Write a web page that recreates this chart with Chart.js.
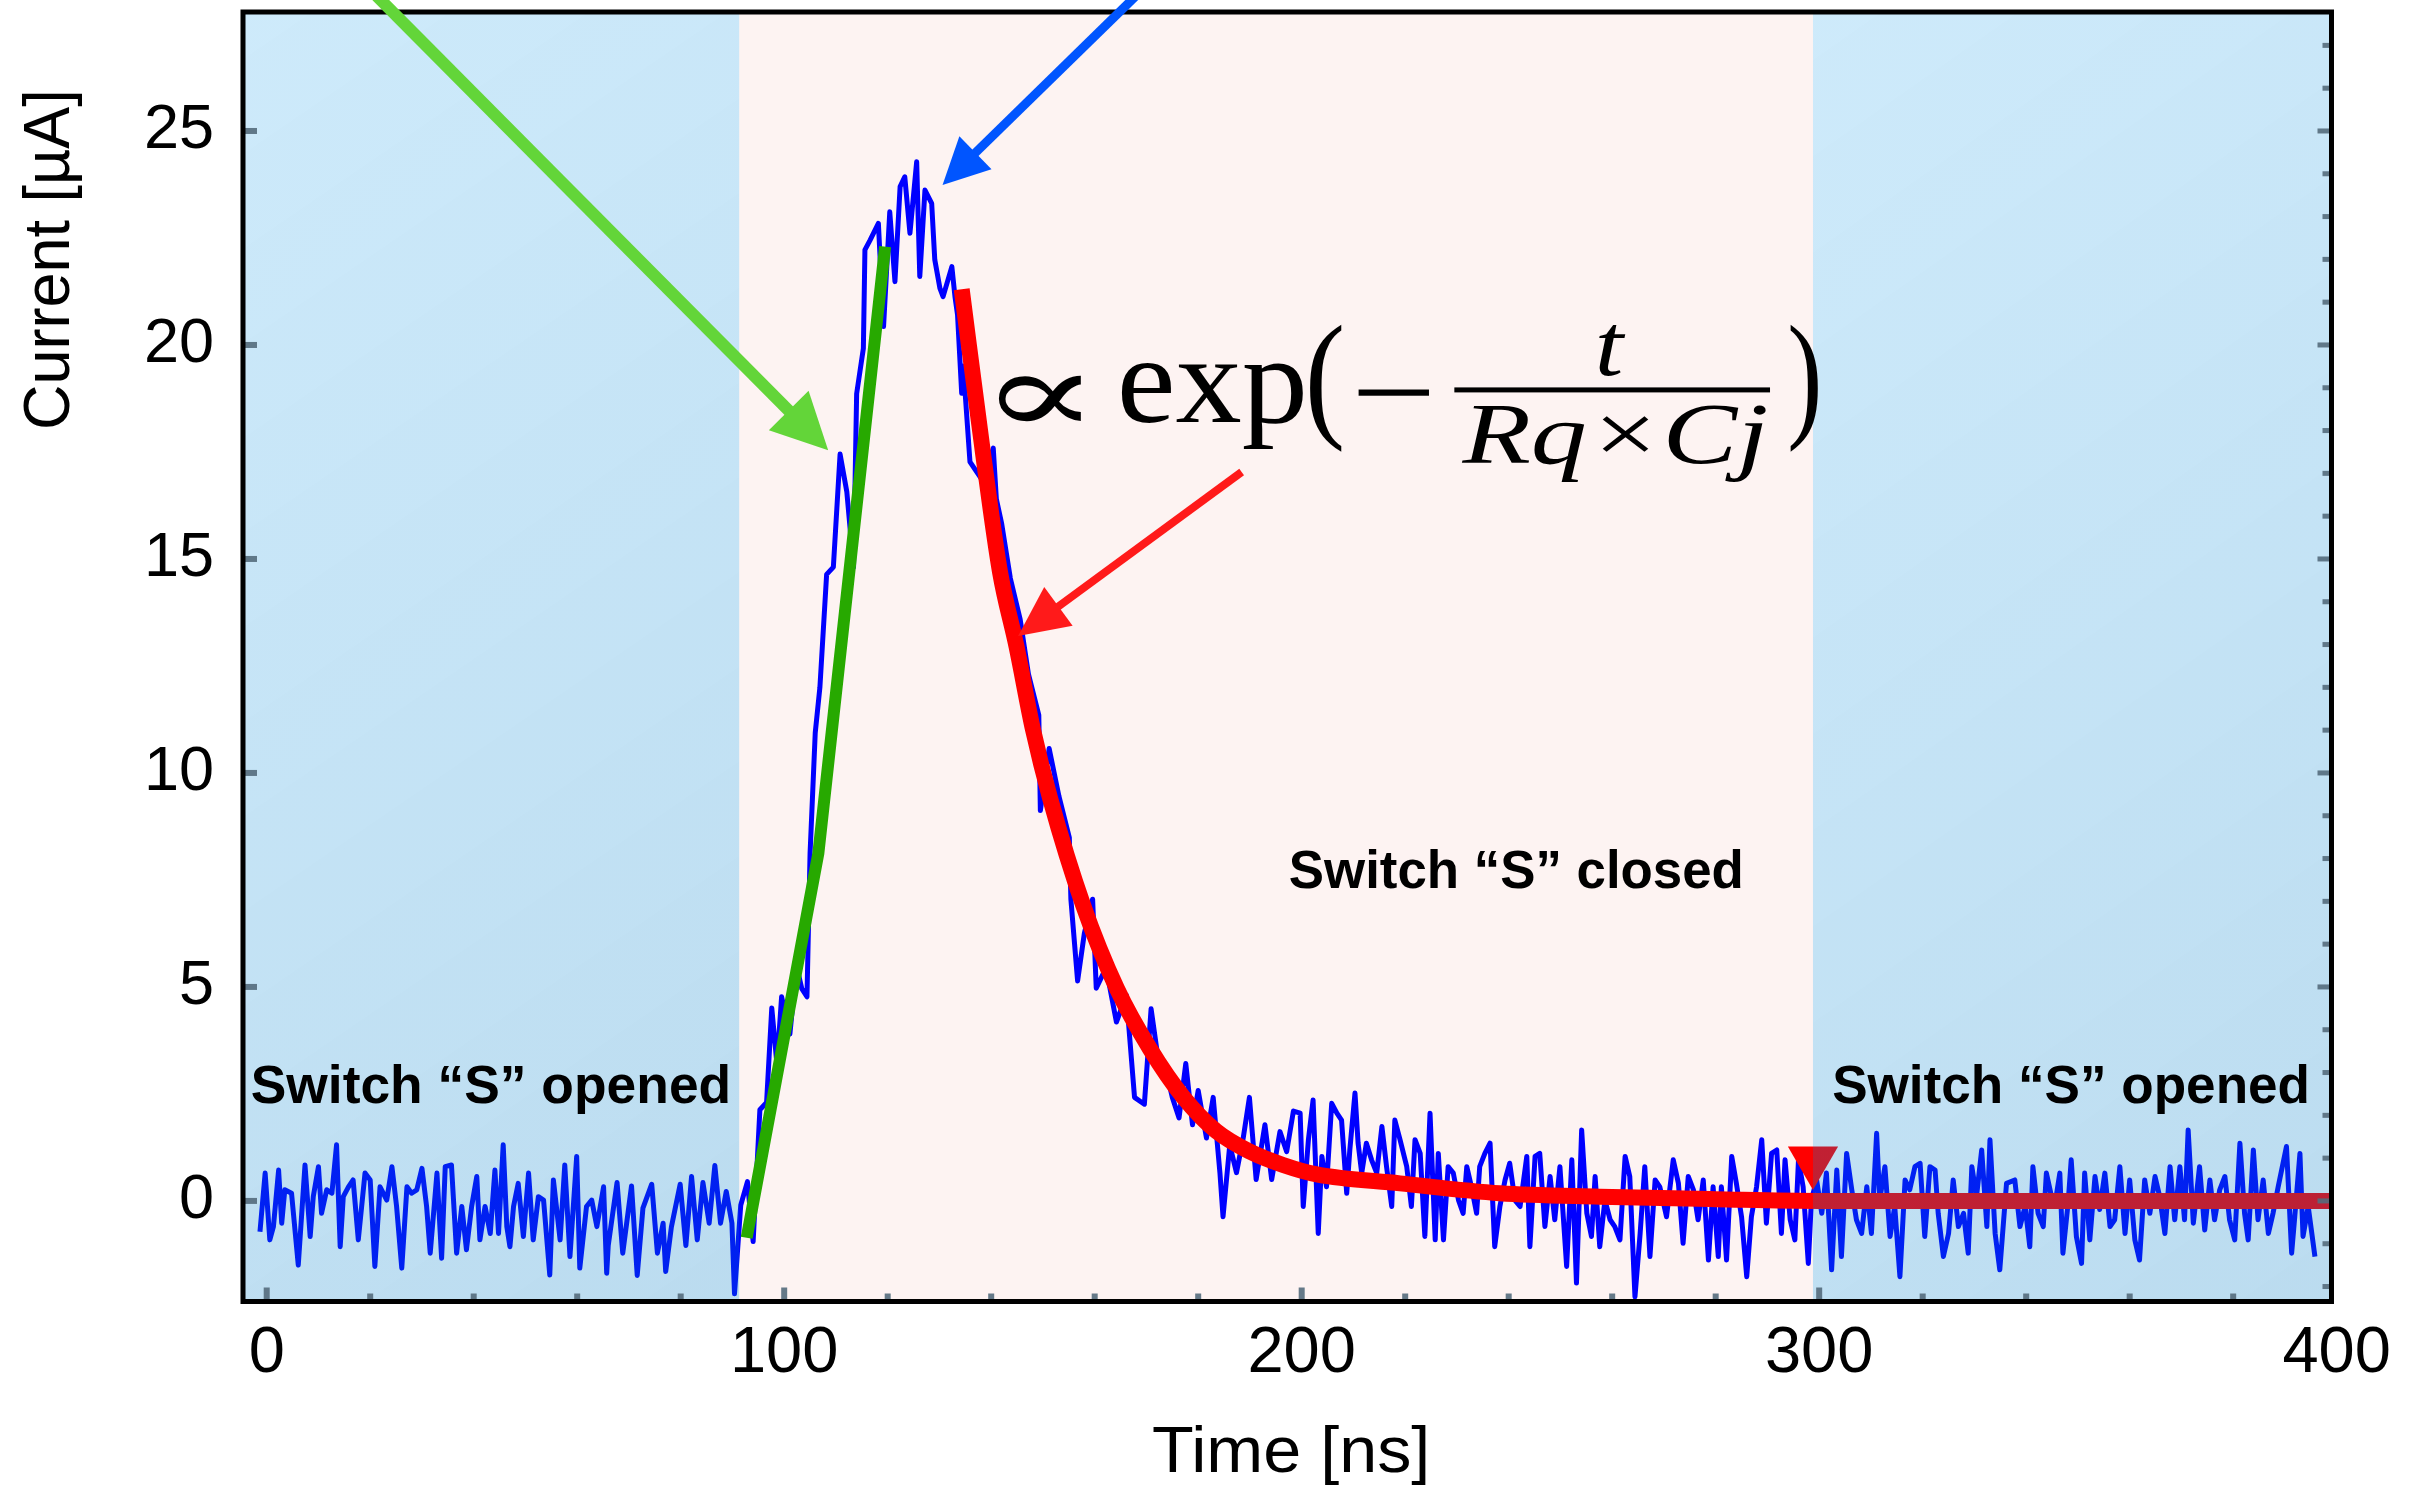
<!DOCTYPE html>
<html>
<head>
<meta charset="utf-8">
<title>Current pulse vs time</title>
<script src="https://cdn.jsdelivr.net/npm/chart.js@4.4.1/dist/chart.umd.min.js"></script>
<style>
  html, body { margin: 0; padding: 0; background: #ffffff; }
  #plot { display: block; }
</style>
</head>
<body>
<canvas id="plot" width="2427" height="1486" style="width:2427px;height:1486px"></canvas>
<script>
// ---- measured current trace: [time (ns), current (µA)] ----
const traceBefore = [
  [-1.3,-0.72],[-0.3,0.65],[0.6,-0.91],[1.3,-0.60],[2.3,0.72],[2.9,-0.52],[3.5,0.26],[4.8,0.18],
  [6.1,-1.50],[7.4,0.84],[8.4,-0.83],[9.0,0.10],[10.0,0.80],[10.6,-0.29],[11.6,0.26],[12.6,0.18],
  [13.5,1.31],[14.2,-1.07],[14.8,0.10],[15.8,0.33],[16.7,0.49],[17.7,-0.91],[19.0,0.65],[20.0,0.49],
  [20.9,-1.53],[21.9,0.33],[23.2,0.02],[24.2,0.80],[25.1,-0.13],[26.1,-1.57],[27.1,0.33],[28.0,0.18],
  [29.0,0.26],[30.0,0.76],[30.9,-0.13],[31.6,-1.22],[32.9,0.65],[33.8,-1.34],[34.5,0.80],[35.7,0.84],
  [36.7,-1.22],[37.7,-0.13],[38.6,-1.14],[39.6,-0.13],[40.6,0.57],[41.2,-0.91],[42.2,-0.13],[43.2,-0.76],
  [44.1,0.72],[44.8,-0.76],[45.7,1.31],[46.4,-0.60],[47.0,-1.07],[47.7,-0.13],[48.6,0.41],[49.6,-0.83],
  [50.6,0.65],[51.5,-0.91],[52.5,0.10],[53.5,0.02],[54.7,-1.73],[55.4,0.49],[56.7,-0.91],[57.6,0.84],
  [58.6,-1.30],[59.9,1.04],[60.5,-1.57],[61.8,-0.13],[62.8,0.02],[63.8,-0.60],[65.1,0.33],[65.7,-1.69],
  [66.0,-1.04],[67.7,0.43],[68.8,-1.22],[70.5,0.35],[71.6,-1.74],[72.7,-0.17],[74.4,0.39],[75.5,-1.22],
  [76.6,-0.52],[77.1,-1.65],[78.2,-0.61],[79.9,0.39],[81.0,-1.04],[82.1,0.57],[83.2,-0.91],[84.3,0.43],
  [85.5,-0.52],[86.6,0.83],[87.7,-0.52],[88.8,0.22],[89.9,-0.52],[90.4,-2.17],[91.6,-0.10]
];
const tracePulse = [
  [92.9,0.45],[94.0,-0.95],[95.3,2.13],[96.6,2.30],[97.6,4.51],[98.6,3.19],[99.5,4.77],[101.1,3.90],
  [102.4,5.48],[103.4,4.96],[104.4,4.77],[105.0,8.12],[106.0,10.94],[106.9,12.00],[108.2,14.64],[109.5,14.81],
  [110.8,17.45],[112.1,16.57],[113.4,14.81],[114.0,18.86],[115.3,19.92],[115.6,22.22],[116.6,22.45],[118.2,22.84],
  [119.2,20.43],[120.4,23.11],[121.4,21.48],[122.4,23.70],[123.3,23.93],[124.3,22.61],[125.6,24.28],[126.2,21.60],
  [127.2,23.62],[128.5,23.31],[129.1,21.99],[130.1,21.32],[130.7,21.13],[132.4,21.83],[133.0,21.13],[133.5,20.70],
  [134.3,18.87],[134.6,19.51],[135.9,17.27],[138.5,16.80],[140.4,17.59],[141.0,16.40],[142.0,15.84],[143.7,14.55],
  [145.6,13.59],[147.2,12.31],[149.2,11.35],[149.5,9.12],[151.2,10.57],[153.1,9.45],[155.1,8.49],[155.4,7.05],
  [156.7,5.14],[158.0,6.25],[159.6,7.05],[160.3,4.97],[162.2,5.45],[164.2,4.18],[166.1,4.81],[167.7,2.42],
  [169.6,2.26],[170.9,4.49],[172.2,3.37],[173.8,3.05],[175.0,2.42],[176.3,1.94],[177.6,3.21],[178.9,1.78],
  [180.0,2.58],[181.6,1.47],[182.9,2.42],[184.2,0.66],[184.8,-0.37],[186.1,1.31],[187.4,0.66],[188.7,1.47],
  [189.9,2.42],[191.2,0.50],[192.9,1.78],[194.2,0.50],[195.8,1.62],[197.1,1.15],[198.4,2.10]
];
const traceTail = [
  [199.7,2.05],[200.3,-0.13],[201.3,1.43],[202.2,2.36],[203.2,-0.76],[203.9,1.04],[204.8,0.33],[205.8,2.28],
  [206.8,2.05],[207.7,1.89],[208.7,0.18],[209.3,1.19],[210.3,2.52],[210.9,1.35],[211.6,0.65],[212.5,1.35],
  [213.5,0.96],[214.5,0.65],[215.5,1.74],[216.4,0.80],[217.4,-0.13],[218.0,1.89],[219.0,1.43],[220.3,0.80],
  [221.2,-0.13],[221.9,1.43],[222.9,1.11],[223.8,-0.83],[224.8,2.05],[225.8,-0.91],[226.4,1.11],[227.4,-0.91],
  [228.3,0.80],[229.3,0.65],[230.3,0.02],[231.2,-0.29],[231.9,0.80],[232.8,0.33],[233.8,-0.29],[234.4,0.80],
  [235.4,1.11],[236.4,1.35],[237.3,-1.07],[238.3,-0.13],[239.3,0.49],[240.2,0.88],[241.2,0.02],[242.2,-0.13],
  [243.5,1.04],[244.1,-1.07],[245.1,1.04],[246.0,1.11],[247.0,-0.60],[248.0,0.57],[248.9,-0.44],[249.9,0.80],
  [251.2,-1.53],[252.2,0.96],[253.1,-1.92],[254.1,1.66],[255.1,-0.29],[256.0,-0.83],[256.7,0.57],[257.6,-1.07],
  [258.6,0.02],[259.6,-0.44],[260.5,-0.60],[261.5,-0.91],[262.5,1.04],[263.4,0.57],[264.4,-2.24],[265.4,-0.76],
  [266.3,0.80],[267.3,-1.30],[268.3,0.49],[269.2,0.33],[270.5,-0.37],[271.8,0.96],[272.8,0.41],[273.7,-0.99],
  [274.7,0.57],[275.7,0.26],[276.6,-0.44],[277.6,0.49],[278.6,-1.38],[279.5,0.33],[280.5,-1.30],[281.1,0.33],
  [282.1,-1.38],[283.1,1.04],[284.0,0.41],[285.0,-0.37],[286.0,-1.77],[286.9,-0.37],[287.9,0.33],[288.9,1.43],
  [289.8,-0.52],[290.8,1.11],[291.8,1.19],[292.7,-0.76],[293.4,0.96],[294.4,-0.44],[295.3,-0.91],[296.0,0.96],
  [296.9,0.33],[297.9,-1.46],[298.5,0.02]
];
const traceAfter = [
  [299.5,0.49],[300.5,-0.29],[301.4,0.65],[302.4,-1.61],[303.4,0.72],[304.3,-1.30],[305.3,1.11],[306.3,0.26],
  [307.2,-0.44],[308.2,-0.76],[309.2,0.33],[310.1,-0.76],[311.1,1.58],[311.7,0.02],[312.7,0.80],[313.7,-0.83],
  [314.6,-0.13],[315.6,-1.77],[316.6,0.49],[317.5,0.26],[318.5,0.80],[319.5,0.88],[320.4,-0.83],[321.4,0.80],
  [322.4,0.72],[323.0,-0.29],[324.0,-1.30],[325.0,-0.76],[325.9,0.49],[326.9,-0.60],[327.9,-0.29],[328.8,-1.22],
  [329.5,0.80],[330.4,0.10],[331.4,1.19],[332.4,-0.60],[333.0,1.43],[334.0,-0.76],[334.9,-1.61],[336.2,0.41],
  [337.8,0.49],[338.8,-0.60],[339.8,-0.13],[340.7,-1.07],[341.3,0.80],[342.3,-0.29],[343.3,-0.60],[343.9,0.65],
  [344.9,0.10],[345.5,-0.13],[346.5,0.65],[347.1,-1.22],[348.1,-0.05],[348.7,0.96],[349.7,-0.83],[350.7,-1.46],
  [351.3,0.65],[352.3,-0.91],[353.3,0.57],[354.2,-0.20],[355.2,0.65],[356.2,-0.60],[357.1,-0.44],[358.1,0.80],
  [359.1,-0.76],[360.0,0.49],[361.0,-0.91],[361.9,-1.38],[362.9,0.49],[363.9,-0.29],[364.9,0.57],[365.8,0.10],
  [366.8,-0.76],[367.8,0.80],[368.7,-0.44],[369.7,0.80],[370.6,-0.44],[371.3,1.66],[372.3,-0.52],[373.5,0.80],
  [374.5,-0.68],[375.5,0.49],[376.4,-0.44],[377.4,0.26],[378.4,0.57],[379.3,-0.44],[380.3,-0.91],[381.3,1.35],
  [382.2,-0.29],[382.9,-0.91],[383.9,1.19],[384.8,-0.44],[385.8,0.49],[386.8,-0.76],[387.7,-0.29],[388.7,0.33],
  [390.3,1.27],[391.3,-1.22],[391.9,-0.37],[392.9,1.11],[393.5,-0.83],[394.5,-0.13],[395.8,-1.30]
];

// ---- fitted curves ----
const riseFit = [[92.75,-0.86],[106.6,8.12],[119.5,22.30]];
const decayFit = [
  [134.3,21.30],[138.5,17.40],[141.7,14.70],[144.9,12.95],[148.1,11.00],[151.4,9.40],[157.8,6.90],
  [164.3,4.96],[170.7,3.55],[177.1,2.43],[183.5,1.63],[190.0,1.15],[196.4,0.84],[202.9,0.62],
  [219.0,0.41],[238.3,0.18],[257.6,0.10],[280.0,0.04],[300.0,0.00],[400.0,0.00]
];
const switchMarker = [[298.8,0.93]];

// ---- switch states (ns) and axis ticks ----
const switchClosedAt = 91.3;
const switchOpenedAt = 298.8;
const xTickValues = [0, 100, 200, 300, 400];
const yTickValues = [0, 5, 10, 15, 20, 25];

// ---- annotation arrows: [fromTime, fromCurrent, toTime, toCurrent] ----
const arrowRise  = [20.15, 28.29, 108.5, 17.54];
const arrowPeak  = [169.1, 28.29, 130.6, 23.74];
const arrowDecay = [188.4, 17.03, 145.2, 13.20];

// plot frame position on the page (px)
const FRAME = { left: 243, top: 12, right: 2331.5, bottom: 1301.5 };

const toXY = pts => pts.map(p => ({ x: p[0], y: p[1] }));

// Draws text stretched horizontally so that its ink spans [left, right].
function fitText(ctx, text, font, left, right, yRef, mode) {
  ctx.save();
  ctx.font = font;
  ctx.textAlign = 'left';
  ctx.textBaseline = 'alphabetic';
  const m = ctx.measureText(text);
  const gl = -m.actualBoundingBoxLeft, gr = m.actualBoundingBoxRight;
  const s = (right - left) / (gr - gl);
  let by = yRef;
  if (mode === 'bottom') by = yRef - m.actualBoundingBoxDescent;
  else if (mode === 'top') by = yRef + m.actualBoundingBoxAscent;
  else if (mode === 'middle') by = yRef + (m.actualBoundingBoxAscent - m.actualBoundingBoxDescent) / 2;
  ctx.translate(left - gl * s, by);
  ctx.scale(s, 1);
  ctx.fillStyle = '#000';
  ctx.fillText(text, 0, 0);
  ctx.restore();
}

function drawArrow(ctx, x0, y0, x1, y1, color, width, headLen, headHalf) {
  const dx = x1 - x0, dy = y1 - y0, len = Math.hypot(dx, dy);
  const ux = dx / len, uy = dy / len;
  const bx = x1 - ux * headLen, by = y1 - uy * headLen;
  ctx.save();
  ctx.strokeStyle = color;
  ctx.fillStyle = color;
  ctx.lineWidth = width;
  ctx.lineCap = 'butt';
  ctx.beginPath();
  ctx.moveTo(x0, y0);
  ctx.lineTo(bx + ux * 2, by + uy * 2);
  ctx.stroke();
  ctx.beginPath();
  ctx.moveTo(x1, y1);
  ctx.lineTo(bx - uy * headHalf, by + ux * headHalf);
  ctx.lineTo(bx + uy * headHalf, by - ux * headHalf);
  ctx.closePath();
  ctx.fill();
  ctx.restore();
}

function openShade(ctx, x0, y0, x1, y1) {
  const g = ctx.createLinearGradient(x0, y0, x1 + (y1 - y0) * 0.3, y1);
  g.addColorStop(0, 'rgba(8,150,232,0.20)');
  g.addColorStop(1, 'rgba(0,118,190,0.28)');
  ctx.fillStyle = g;
  ctx.fillRect(x0, y0, x1 - x0, y1 - y0);
}

const decorations = {
  id: 'decorations',
  beforeDatasetsDraw(chart) {
    const { ctx, chartArea: a, scales: { x } } = chart;
    const xc = x.getPixelForValue(switchClosedAt), xo = x.getPixelForValue(switchOpenedAt);
    ctx.save();
    ctx.fillStyle = '#fdf3f2';
    ctx.fillRect(xc, a.top, xo - xc, a.bottom - a.top);
    ctx.restore();
  },
  afterDatasetsDraw(chart) {
    const { ctx, chartArea: a, scales: { x, y } } = chart;
    const xc = x.getPixelForValue(switchClosedAt), xo = x.getPixelForValue(switchOpenedAt);
    ctx.save();
    openShade(ctx, a.left, a.top, xc, a.bottom);
    openShade(ctx, xo, a.top, a.right, a.bottom);

    // inward tick marks
    ctx.fillStyle = 'rgba(84,108,124,0.9)';
    for (const v of yTickValues) {
      const py = y.getPixelForValue(v);
      ctx.fillRect(a.left, py - 3, 14, 6);
    }
    for (let v = -2; v <= 27; v++) {
      const py = y.getPixelForValue(v);
      const L = v % 5 === 0 ? 14 : 9;
      ctx.fillRect(a.right - L, py - 2.5, L, 5);
    }
    for (let t = 0; t < 400; t += 20) {
      const px = x.getPixelForValue(t);
      const L = t % 100 === 0 ? 14 : 8;
      ctx.fillRect(px - 3, a.bottom - L, 6, L);
    }

    // frame
    ctx.strokeStyle = '#000';
    ctx.lineWidth = 5;
    ctx.strokeRect(a.left, a.top, a.right - a.left, a.bottom - a.top);

    // switch state labels
    const bold = "bold 53px 'Liberation Sans', Arial, sans-serif";
    fitText(ctx, 'Switch \u201cS\u201d opened', bold, x.getPixelForValue(-2.9), x.getPixelForValue(89.1), y.getPixelForValue(2.28), 'baseline');
    fitText(ctx, 'Switch \u201cS\u201d opened', bold, x.getPixelForValue(302.7), x.getPixelForValue(394.2), y.getPixelForValue(2.28), 'baseline');
    fitText(ctx, 'Switch \u201cS\u201d closed', bold, x.getPixelForValue(197.7), x.getPixelForValue(284.8), y.getPixelForValue(7.31), 'baseline');

    // decay law
    const serif = "'Liberation Serif', 'DejaVu Serif', serif";
    fitText(ctx, '\u221d', "118px 'DejaVu Serif', serif", x.getPixelForValue(141.3), x.getPixelForValue(157.6), y.getPixelForValue(18.2), 'bottom');
    fitText(ctx, 'exp', '125px ' + serif, x.getPixelForValue(165.1), x.getPixelForValue(200.3), y.getPixelForValue(18.2), 'baseline');
    fitText(ctx, '(', '140px ' + serif, x.getPixelForValue(201.6), x.getPixelForValue(207.8), y.getPixelForValue(17.5), 'bottom');
    fitText(ctx, '\u2212', '125px ' + serif, x.getPixelForValue(211.0), x.getPixelForValue(224.8), y.getPixelForValue(18.9), 'middle');
    fitText(ctx, 't', 'italic 88px ' + serif, x.getPixelForValue(257.3), x.getPixelForValue(262.7), y.getPixelForValue(19.3), 'baseline');
    fitText(ctx, 'Rq\u00d7Cj', 'italic 86px ' + serif, x.getPixelForValue(230.8), x.getPixelForValue(289.7), y.getPixelForValue(17.24), 'baseline');
    fitText(ctx, ')', '140px ' + serif, x.getPixelForValue(294.4), x.getPixelForValue(299.8), y.getPixelForValue(17.5), 'bottom');
    ctx.fillStyle = '#000';
    const barY = y.getPixelForValue(18.95);
    ctx.fillRect(x.getPixelForValue(229.5), barY - 2.5, x.getPixelForValue(290.5) - x.getPixelForValue(229.5), 5);

    // arrows
    const P = (arr) => [x.getPixelForValue(arr[0]), y.getPixelForValue(arr[1]), x.getPixelForValue(arr[2]), y.getPixelForValue(arr[3])];
    drawArrow(ctx, ...P(arrowRise), '#63d539', 12, 56, 28);
    drawArrow(ctx, ...P(arrowPeak), '#0055ff', 9, 46, 23);
    drawArrow(ctx, ...P(arrowDecay), '#ff1a1a', 8, 50, 24);

    // axis titles
    ctx.fillStyle = '#000';
    fitText(ctx, 'Time [ns]', "65px 'Liberation Sans', Arial, sans-serif", 1153, 1426, 1472, 'baseline');
    ctx.translate(69, 427);
    ctx.rotate(-Math.PI / 2);
    fitText(ctx, 'Current [\u00b5A]', "64px 'Liberation Sans', Arial, sans-serif", 0, 334, 0, 'baseline');
    ctx.restore();
  }
};

const chart = new Chart(document.getElementById('plot'), {
  type: 'line',
  data: {
    datasets: [
      {
        label: 'Current',
        data: toXY(traceBefore.concat(tracePulse, traceTail, traceAfter)),
        borderColor: '#0000ff',
        borderWidth: 5,
        borderJoinStyle: 'round',
        pointRadius: 0,
        tension: 0,
        clip: 0,
        order: 3
      },
      {
        label: 'Rise',
        data: toXY(riseFit),
        borderColor: '#27a900',
        borderWidth: 12,
        pointRadius: 0,
        tension: 0,
        clip: 0,
        order: 2
      },
      {
        label: 'Decay fit',
        data: toXY(decayFit),
        borderColor: '#ff0000',
        borderWidth: 16,
        pointRadius: 0,
        cubicInterpolationMode: 'monotone',
        clip: 0,
        order: 1
      },
      {
        label: 'Switch',
        data: toXY(switchMarker),
        showLine: false,
        pointStyle: 'triangle',
        pointRotation: 180,
        pointRadius: 29,
        pointBackgroundColor: '#ff0000',
        pointBorderWidth: 0,
        clip: 0,
        order: 0
      }
    ]
  },
  options: {
    responsive: false,
    animation: false,
    events: [],
    layout: { autoPadding: false, padding: { top: FRAME.top, right: 2427 - FRAME.right, left: 0, bottom: 0 } },
    plugins: { legend: { display: false }, tooltip: { enabled: false } },
    scales: {
      x: {
        type: 'linear',
        min: -4.58,
        max: 399,
        afterFit(s) { s.height = 1486 - FRAME.bottom; s.paddingLeft = 0; s.paddingRight = 0; s.paddingTop = 0; s.paddingBottom = 0; },
        afterBuildTicks(s) { s.ticks = xTickValues.map(v => ({ value: v })); },
        grid: { display: false, drawTicks: false },
        border: { display: false },
        ticks: {
          autoSkip: false, maxRotation: 0, padding: 14, color: '#000',
          font: { family: "'Liberation Sans', Arial, sans-serif", size: 65 }
        }
      },
      y: {
        type: 'linear',
        min: -2.35,
        max: 27.78,
        afterFit(s) { s.width = FRAME.left; s.paddingTop = 0; s.paddingBottom = 0; s.paddingLeft = 0; s.paddingRight = 0; },
        afterBuildTicks(s) { s.ticks = yTickValues.map(v => ({ value: v })); },
        grid: { display: false, drawTicks: false },
        border: { display: false },
        ticks: {
          padding: 29, color: '#000',
          font: { family: "'Liberation Sans', Arial, sans-serif", size: 63 }
        }
      }
    }
  },
  plugins: [decorations]
});

// settle the plot area exactly on the frame position
const pad = chart.options.layout.padding;
for (let i = 0; i < 3; i++) {
  const a = chart.chartArea;
  const dTop = FRAME.top - a.top, dRight = a.right - FRAME.right;
  const dLeft = FRAME.left - a.left, dBottom = a.bottom - FRAME.bottom;
  if (Math.abs(dTop) < 0.5 && Math.abs(dRight) < 0.5 && Math.abs(dLeft) < 0.5 && Math.abs(dBottom) < 0.5) break;
  pad.top += dTop;
  pad.right += dRight;
  pad.left += dLeft;
  pad.bottom += dBottom;
  chart.update('none');
}
</script>
</body>
</html>
